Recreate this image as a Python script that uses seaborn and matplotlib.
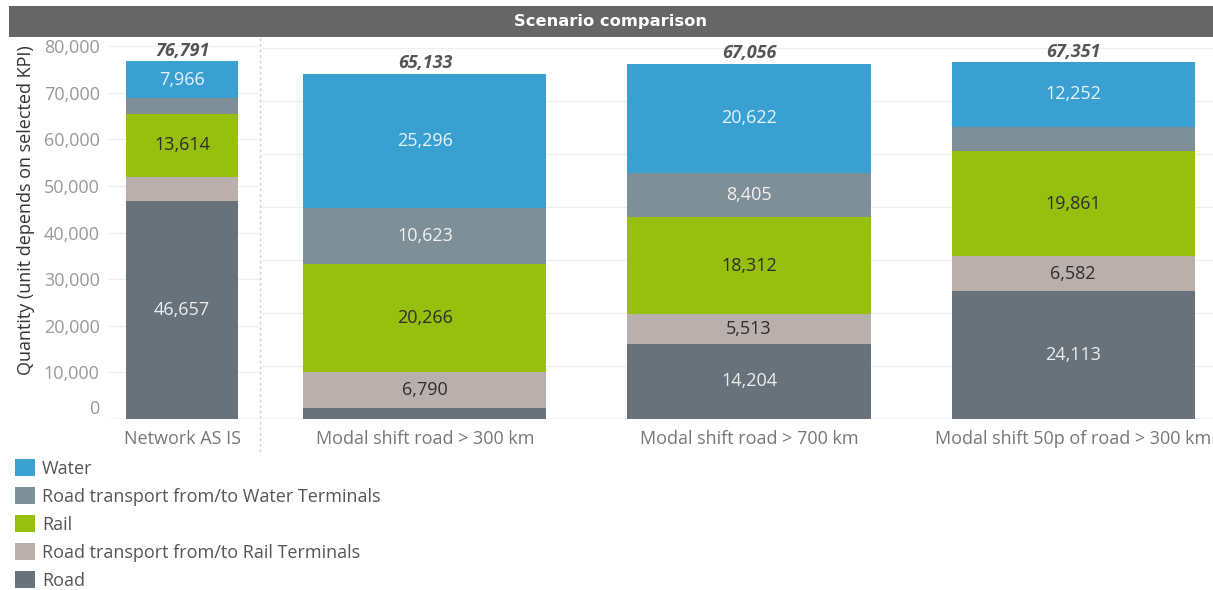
import matplotlib
matplotlib.use("Agg")
import matplotlib.pyplot as plt
import matplotlib.transforms as mtransforms
from matplotlib.lines import Line2D
from matplotlib.patches import Patch, Rectangle
import numpy as np
import pandas as pd
import seaborn as sns

# ---- data -------------------------------------------------------------
scenarios = [
    "Network AS IS",
    "Modal shift road > 300 km",
    "Modal shift road > 700 km",
    "Modal shift 50p of road > 300 km",
]
# stack order, bottom to top
modes = [
    "Road",
    "Road transport from/to Rail Terminals",
    "Rail",
    "Road transport from/to Water Terminals",
    "Water",
]
road = [46657, 2158, 14204, 24113]
road_rail = [5254, 6790, 5513, 6582]
rail = [13614, 20266, 18312, 19861]
road_water = [3300, 10623, 8405, 4543]
water = [7966, 25296, 20622, 12252]
totals = [76791, 65133, 67056, 67351]
y_ticks = [0, 10000, 20000, 30000, 40000, 50000, 60000, 70000, 80000]

# ---- style ------------------------------------------------------------
colors = {
    "Water": "#3a9fd1",
    "Road transport from/to Water Terminals": "#7f8f97",
    "Rail": "#97bf0d",
    "Road transport from/to Rail Terminals": "#b9afac",
    "Road": "#67727a",
}
label_colors = {
    "Water": "#e6f4fb",
    "Road transport from/to Water Terminals": "#f2f2f2",
    "Rail": "#2e2e2e",
    "Road transport from/to Rail Terminals": "#2e2e2e",
    "Road": "#eeeeee",
}

sns.set_theme(style="white")
plt.rcParams["font.family"] = ["Open Sans", "DejaVu Sans"]

FS = 13

values = {
    "Road": road,
    "Road transport from/to Rail Terminals": road_rail,
    "Rail": rail,
    "Road transport from/to Water Terminals": road_water,
    "Water": water,
}
rows = []
for i, sc in enumerate(scenarios):
    cum = 0
    for m in modes:
        v = values[m][i]
        cum += v
        rows.append({"scenario": sc, "mode": m, "value": v, "top": cum})
df = pd.DataFrame(rows)

W, H = 1213, 590
fig = plt.figure(figsize=(W / 100, H / 100), dpi=100)


def box(x0, y0, x1, y1):
    return [x0 / W, 1 - y1 / H, (x1 - x0) / W, (y1 - y0) / H]


PLOT_TOP, PLOT_BOTTOM = 40, 419
ax_l = fig.add_axes(box(108, PLOT_TOP, 259, PLOT_BOTTOM))
ax_r = fig.add_axes(box(262, PLOT_TOP, 1213, PLOT_BOTTOM))

panels = [
    (ax_l, scenarios[:1], 81300, (-0.497, 0.517)),
    (ax_r, scenarios[1:], 71500, (-0.503, 2.432)),
]
plot_h = PLOT_BOTTOM - PLOT_TOP

for ax, order, ytop, xlim in panels:
    sub = df[df["scenario"].isin(order)]
    # overlapping cumulative bars give the stacked look
    for m in reversed(modes):
        sns.barplot(
            data=sub[sub["mode"] == m], x="scenario", y="top", order=order,
            color=colors[m], saturation=1, width=0.75, errorbar=None,
            linewidth=0, ax=ax, zorder=3,
        )
    for i, sc in enumerate(order):
        seg = sub[sub["scenario"] == sc]
        for _, r in seg.iterrows():
            if r["value"] / ytop * plot_h >= 26:
                ax.text(i, r["top"] - r["value"] / 2, f"{r['value']:,}",
                        ha="center", va="center", fontsize=FS,
                        color=label_colors[r["mode"]], zorder=5)
        t = totals[scenarios.index(sc)]
        ax.annotate(f"{t:,}", (i, t), xytext=(0, 1), textcoords="offset points",
                    ha="center", va="bottom", fontsize=FS, fontweight="bold",
                    fontstyle="italic", color="#555555", zorder=5)

    for s in ax.spines.values():
        s.set_visible(False)
    ax.set_yticks(y_ticks)
    ax.set_ylim(0, ytop)
    ax.set_xlim(*xlim)
    ax.set_xlabel("")
    ax.set_ylabel("")
    ax.yaxis.grid(True, color="#eeeeee", linewidth=0.9, zorder=0)
    ax.set_axisbelow(True)
    ax.axhline(0, color="#dddddd", linewidth=1, zorder=2)
    ax.tick_params(axis="x", length=0, pad=8, labelsize=FS, labelcolor="#777777")
    ax.tick_params(axis="y", length=0, pad=6, labelsize=FS, labelcolor="#999999")

ax_l.set_yticklabels([f"{v:,}" for v in y_ticks])
ax_r.set_yticklabels([])
# lift the zero label off the baseline
zero_lbl = ax_l.get_yticklabels()[0]
zero_lbl.set_transform(zero_lbl.get_transform()
                       + mtransforms.ScaledTranslation(0, 12 / 100, fig.dpi_scale_trans))

fig.text(26 / W, 1 - 210 / H, "Quantity (unit depends on selected KPI)",
         rotation=90, ha="center", va="center", fontsize=FS, color="#333333")

# panel divider
fig.add_artist(Line2D([260 / W, 260 / W], [1 - 38 / H, 1 - 455 / H],
                      color="#cfcfcf", linewidth=1, linestyle=(0, (2, 2))))

# header band
fig.add_artist(Rectangle((9 / W, 1 - 37 / H), 1204 / W, 31 / H,
                         transform=fig.transFigure, facecolor="#666666",
                         edgecolor="none"))
fig.text(611 / W, 1 - 21.5 / H, "Scenario comparison", ha="center", va="center",
         color="white", fontsize=11.7, fontweight="bold", family="DejaVu Sans")

# legend, top of stack first
handles = [Patch(facecolor=colors[m], edgecolor="none", label=m) for m in reversed(modes)]
fig.legend(handles=handles, loc="upper left", bbox_to_anchor=(15 / W, 1 - 459 / H),
           frameon=False, borderpad=0, borderaxespad=0, fontsize=FS,
           handlelength=1.1, handleheight=1.1, labelspacing=0.51,
           handletextpad=0.4, labelcolor="#555555")

fig.savefig("out.png", dpi=100)
